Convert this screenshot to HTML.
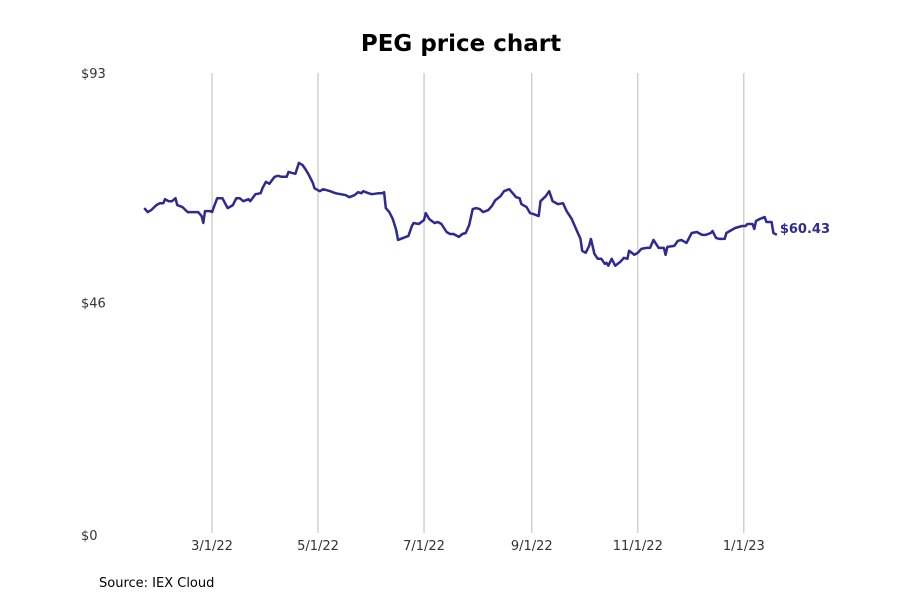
<!DOCTYPE html>
<html><head><meta charset="utf-8"><style>
body{margin:0;background:#fff;width:900px;height:600px;overflow:hidden;font-family:"DejaVu Sans","Liberation Sans",sans-serif}
</style></head><body>
<svg id="chart" width="900" height="600" xmlns="http://www.w3.org/2000/svg">
<text x="461" y="51" text-anchor="middle" font-size="23" font-weight="bold" fill="#000">PEG price chart</text>
<g id="grid"></g>
<g id="yaxis"></g>
<g id="xaxis"></g>
<path id="line" fill="none" stroke="#2e2a8f" stroke-width="2.5" stroke-linejoin="round"/>
<text id="lastLabel" font-size="13" font-weight="bold" fill="#2e2a8f"></text>
<text x="99" y="587" font-size="13" fill="#000">Source: IEX Cloud</text>
</svg>
<script>
// days since 2022-03-01
const dayOffsets=[-39,-37,-35,-32,-30,-28,-27,-25,-23,-21,-20,-17,-14,-12,-8,-6,-5,-4,-1,0,3,6,9,12,14,16,18,21,22,25,28,29,31,33,36,38,40,43,44,46,48,50,52,54,56,58,59,62,64,66,68,71,74,77,79,82,84,86,87,90,92,96,98,99,100,102,104,106,107,110,113,115,116,119,122,123,125,128,130,132,135,137,139,142,144,146,148,150,152,154,156,159,161,163,166,168,171,173,175,177,178,181,183,185,188,189,192,194,196,199,202,204,207,209,211,212,213,215,217,218,219,220,222,224,226,227,228,230,232,235,237,239,240,243,245,247,250,252,254,257,260,261,262,266,268,270,273,276,279,282,284,287,288,290,292,295,296,298,301,303,305,307,308,311,312,313,315,318,319,322,323,325];
const prices=[65.8,65.0,65.4,66.4,66.8,66.8,67.6,67.2,67.2,67.8,66.4,66.0,65.0,65.0,65.0,64.2,62.8,65.2,65.2,65.0,67.8,67.8,65.8,66.4,67.8,67.8,67.2,67.6,67.2,68.6,68.8,69.8,71.1,70.7,72.1,72.3,72.1,72.1,73.1,72.9,72.7,74.9,74.5,73.5,72.3,70.9,69.8,69.2,69.6,69.4,69.2,68.8,68.6,68.4,68.0,68.4,69.0,68.8,69.2,68.8,68.6,68.8,68.8,69.0,65.8,65.0,63.6,61.4,59.4,59.8,60.2,62.2,62.8,62.6,63.4,64.8,63.6,62.8,63.0,62.6,61.0,60.6,60.6,60.0,60.6,60.8,62.4,65.6,65.8,65.6,65.0,65.4,66.2,67.4,68.2,69.2,69.6,68.8,68.0,67.8,66.6,66.0,64.8,64.6,64.2,67.2,68.2,69.2,67.2,66.6,66.8,65.2,63.6,62.0,60.4,59.6,57.2,56.8,58.2,59.6,58.2,56.6,55.6,55.6,54.6,54.8,54.2,55.6,54.2,55.0,55.8,55.6,57.2,56.4,56.8,57.6,57.8,57.8,59.4,57.8,57.8,56.4,58.0,58.2,59.2,59.4,58.8,60.8,61.0,60.4,60.4,60.8,61.2,59.8,59.6,59.6,60.8,61.2,61.8,62.0,62.2,62.2,62.6,62.6,61.6,63.2,63.6,64.0,63.0,63.0,60.8,60.43];
const xTickLabels=["3/1/22","5/1/22","7/1/22","9/1/22","11/1/22","1/1/23"];
const xTickDays=[0,61,122,184,245,306];
const yTickValues=[0,46,93];
const yTickLabels=["$0","$46","$93"];

const NS="http://www.w3.org/2000/svg";
const yMax=93, yTop=73, yBot=535;
const xs=d=>212+d*1.738;
const ys=v=>yBot-(v/yMax)*(yBot-yTop);
const grid=document.getElementById('grid'),xa=document.getElementById('xaxis'),ya=document.getElementById('yaxis');
xTickDays.forEach((d,i)=>{
  const l=document.createElementNS(NS,'line');
  
  
  l.setAttribute('x1',xs(d));l.setAttribute('x2',xs(d));l.setAttribute('y1',yTop);l.setAttribute('y2',533);
  l.setAttribute('stroke','#bbb');l.setAttribute('stroke-width','1');
  grid.appendChild(l);
  const t=document.createElementNS(NS,'text');
  
  
  t.setAttribute('x',xs(d));t.setAttribute('y',550);t.setAttribute('text-anchor','middle');
  t.setAttribute('font-size','13');t.setAttribute('fill','#333');
  t.textContent=xTickLabels[i];xa.appendChild(t);
});
yTickValues.forEach((v,i)=>{
  const t=document.createElementNS(NS,'text');
  
  
  t.setAttribute('x',81);t.setAttribute('y',ys(v)+(v===0?5:v===yMax?5:1));
  t.setAttribute('font-size','13');t.setAttribute('fill','#333');
  t.textContent=yTickLabels[i];ya.appendChild(t);
});
let d='';
dayOffsets.forEach((o,i)=>{d+=(i?'L':'M')+xs(o).toFixed(1)+','+ys(prices[i]).toFixed(1);});
document.getElementById('line').setAttribute('d',d);
const n=prices.length-1,lbl=document.getElementById('lastLabel');
lbl.setAttribute('x',xs(dayOffsets[n])+3);lbl.setAttribute('y',ys(prices[n])-2);
lbl.textContent='$'+prices[n].toFixed(2);
</script>
</body></html>
